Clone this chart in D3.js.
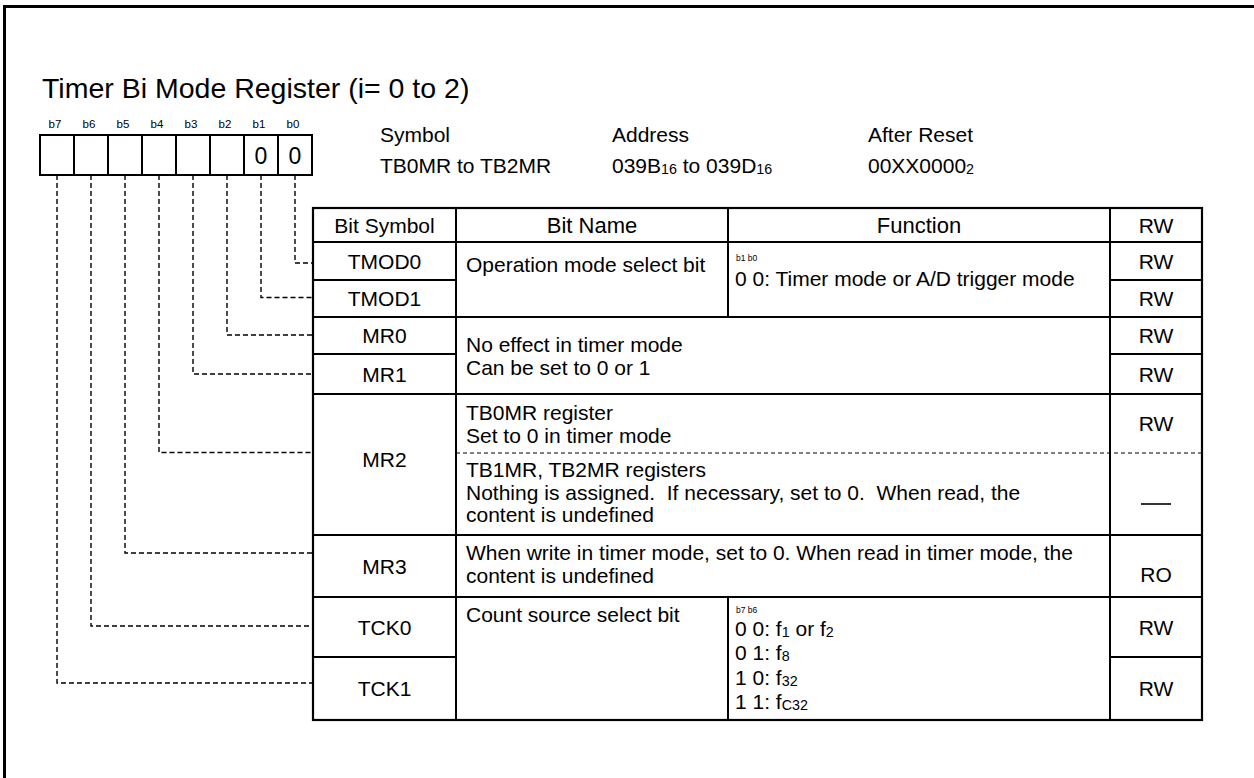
<!DOCTYPE html>
<html><head><meta charset="utf-8">
<script src="https://cdn.jsdelivr.net/npm/d3@7"></script>
<style>body{margin:0;background:#fff;overflow:hidden} svg{display:block;overflow:hidden} text{font-family:"Liberation Sans",Arial,Helvetica,sans-serif;fill:#000;white-space:pre}</style>
</head><body><svg id="c" width="1254" height="778"></svg>
<script>
// ---------- data ----------
const title = "Timer Bi Mode Register (i= 0 to 2)";
const bitLabels = ["b7","b6","b5","b4","b3","b2","b1","b0"];
const bitValues = ["","","","","","","0","0"];
const infoHeaders = ["Symbol","Address","After Reset"];
const infoValues = [
  [{t:"TB0MR to TB2MR"}],
  [{t:"039B"},{t:"16",sub:true},{t:" to 039D"},{t:"16",sub:true}],
  [{t:"00XX0000"},{t:"2",sub:true}]
];
const columnHeaders = ["Bit Symbol","Bit Name","Function","RW"];
const bitSymbols = ["TMOD0","TMOD1","MR0","MR1","MR2","MR3","TCK0","TCK1"];
const symbolBits = ["b0","b1","b2","b3","b4","b5","b6","b7"];
const opModeName = ["Operation mode select bit"];
const opModeFuncHead = "b1 b0";
const opModeFunc = [[{t:"0 0: Timer mode or A/D trigger mode"}]];
const mr01Text = ["No effect in timer mode","Can be set to 0 or 1"];
const mr2UpperText = ["TB0MR register","Set to 0 in timer mode"];
const mr2LowerText = ["TB1MR, TB2MR registers","Nothing is assigned.  If necessary, set to 0.  When read, the","content is undefined"];
const mr3Text = ["When write in timer mode, set to 0. When read in timer mode, the","content is undefined"];
const countName = ["Count source select bit"];
const countFuncHead = "b7 b6";
const countFunc = [
  [{t:"0 0: f"},{t:"1",sub:true},{t:" or f"},{t:"2",sub:true}],
  [{t:"0 1: f"},{t:"8",sub:true}],
  [{t:"1 0: f"},{t:"32",sub:true}],
  [{t:"1 1: f"},{t:"C32",sub:true}]
];
// access column: TMOD0, TMOD1, MR0, MR1, MR2(TB0MR), MR2(TB1MR,TB2MR), MR3, TCK0, TCK1
const accessModes = ["RW","RW","RW","RW","RW","—","RO","RW","RW"];

// ---------- layout ----------
const svg = d3.select("#c");
const FS = 21;
// outer frame (top and left edges visible)
svg.append("path").attr("d","M4.5,800V6.5H1300").attr("fill","none").attr("stroke","#000").attr("stroke-width",3);
svg.append("text").attr("x",42).attr("y",98).attr("font-size",28.5).text(title);

const xBit = d3.scaleBand().domain(bitLabels).range([40,312]);
const bitC = d => xBit(d) + xBit.bandwidth()/2;
const boxTop = 135, boxBot = 175;
const gBits = svg.append("g");
gBits.selectAll("text.bl").data(bitLabels).join("text").attr("class","bl")
  .attr("x",d=>bitC(d)-2).attr("y",128).attr("text-anchor","middle").attr("font-size",11.5).text(d=>d);
gBits.selectAll("rect.bc").data(bitLabels).join("rect").attr("class","bc")
  .attr("x",d=>xBit(d)).attr("y",boxTop).attr("width",xBit.bandwidth()).attr("height",boxBot-boxTop)
  .attr("fill","none").attr("stroke","#000").attr("stroke-width",2);
gBits.selectAll("text.bv").data(bitLabels).join("text").attr("class","bv")
  .attr("x",bitC).attr("y",164).attr("text-anchor","middle").attr("font-size",23)
  .text((d,i)=>bitValues[i]);

function richText(sel, segs, fs){
  let prevSub = false;
  segs.forEach(s=>{
    const ts = sel.append("tspan").text(s.t);
    if(s.sub){ ts.attr("font-size",fs*0.68); if(!prevSub) ts.attr("dy",1); }
    else if(prevSub) ts.attr("dy",-1);
    prevSub = !!s.sub;
  });
}

const infoX = [380,612,868];
infoHeaders.forEach((h,i)=>{
  svg.append("text").attr("x",infoX[i]).attr("y",142).attr("font-size",FS).text(h);
  const t = svg.append("text").attr("x",infoX[i]).attr("y",173).attr("font-size",FS);
  richText(t, infoValues[i], FS);
});

// table
const cols = {sym:[313,456], name:[456,728], func:[728,1110], rw:[1110,1202]};
const rowKeys = ["header",...bitSymbols,"end"];
const rowY = d3.scaleOrdinal().domain(rowKeys).range([208,242,280,317,354,394,535,597,657,720]);
const rowNext = s => rowY(rowKeys[rowKeys.indexOf(s)+1]);
const mr2Split = 453;
const T = svg.append("g");
const L = (x1,y1,x2,y2,dash)=>T.append("line").attr("x1",x1).attr("y1",y1).attr("x2",x2).attr("y2",y2)
  .attr("stroke","#000").attr("stroke-width",dash?1:2).attr("stroke-dasharray",dash?"4,3":null);
const tL = cols.sym[0], tR = cols.rw[1], tT = rowY("header"), tB = rowY("end");
T.append("rect").attr("x",tL).attr("y",tT).attr("width",tR-tL).attr("height",tB-tT)
  .attr("fill","none").attr("stroke","#000").attr("stroke-width",2.2);
["TMOD0","MR0","MR2","MR3","TCK0"].forEach(s=>L(tL,rowY(s),tR,rowY(s)));
["TMOD1","MR1","TCK1"].forEach(s=>{L(cols.sym[0],rowY(s),cols.sym[1],rowY(s)); L(cols.rw[0],rowY(s),cols.rw[1],rowY(s));});
L(cols.name[0],mr2Split,tR,mr2Split,true);
L(cols.sym[1],tT,cols.sym[1],tB);
L(cols.rw[0],tT,cols.rw[0],tB);
L(cols.func[0],tT,cols.func[0],rowY("MR0"));
L(cols.func[0],rowY("TCK0"),cols.func[0],tB);

// text placed by baseline
const txt = (x,y,s,opt={})=>{
  const f = opt.fs||FS;
  const t = T.append("text").attr("x",x).attr("y",y).attr("font-size",f)
    .attr("text-anchor",opt.anchor||"start");
  if(typeof s === "string") t.text(s); else richText(t,s,f);
  return t;
};
const mid = c => (c[0]+c[1])/2;
const base = (a,b) => (a+b)/2 + 7.5;
const hb = base(tT,rowY("TMOD0"));
txt(mid(cols.sym),hb,columnHeaders[0],{anchor:"middle"});
txt(mid(cols.name),hb,columnHeaders[1],{anchor:"middle",fs:22});
txt(mid(cols.func),hb,columnHeaders[2],{anchor:"middle",fs:22});
txt(mid(cols.rw),hb,columnHeaders[3],{anchor:"middle"});

// bit symbols + dashed leaders from the bit boxes
const symCenter = s => s==="MR2" ? 459 : (rowY(s)+rowNext(s))/2;
const leadY = {TMOD0:263,TMOD1:297.5,MR0:335,MR1:374,MR2:452.5,MR3:553,TCK0:626,TCK1:683};
bitSymbols.forEach((s,i)=>{
  txt(mid(cols.sym),symCenter(s)+7.5,s,{anchor:"middle"});
  const x = bitC(symbolBits[i]), y = leadY[s];
  T.append("path").attr("d",`M${x},${boxBot}V${y}H${tL}`).attr("fill","none")
    .attr("stroke","#000").attr("stroke-width",1.4).attr("stroke-dasharray","5,3");
});

const nx = cols.name[0]+10, fx = cols.func[0]+7, LH = 22.5;
opModeName.forEach((l,i)=>txt(nx,272+i*LH,l));
txt(fx+1,261,opModeFuncHead,{fs:8.5});
opModeFunc.forEach((l,i)=>txt(fx,286+i*LH,l));
mr01Text.forEach((l,i)=>txt(nx,352+i*LH,l));
mr2UpperText.forEach((l,i)=>txt(nx,420+i*LH,l));
mr2LowerText.forEach((l,i)=>txt(nx,477+i*LH,l));
mr3Text.forEach((l,i)=>txt(nx,560+i*LH,l));
countName.forEach((l,i)=>txt(nx,622+i*LH,l));
txt(fx+1,613,countFuncHead,{fs:8.5});
countFunc.forEach((l,i)=>txt(fx,636+i*24.3,l));

const rwC = [(242+280)/2,(280+317)/2,(317+354)/2,(354+394)/2,(394+453)/2,504,574,(597+657)/2,(657+720)/2];
accessModes.forEach((a,i)=>{
  if(a==="—") T.append("line").attr("x1",mid(cols.rw)-15).attr("x2",mid(cols.rw)+15)
     .attr("y1",rwC[i]).attr("y2",rwC[i]).attr("stroke","#000").attr("stroke-width",1.6);
  else txt(mid(cols.rw),rwC[i]+7.5,a,{anchor:"middle"});
});
</script></body></html>
